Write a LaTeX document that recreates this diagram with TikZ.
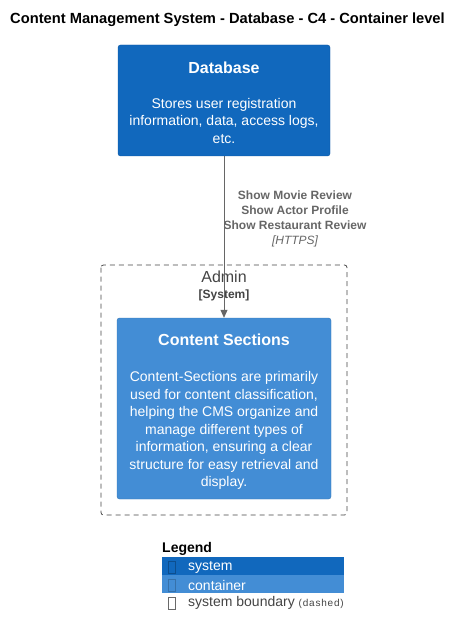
\documentclass[tikz,border=0pt]{standalone}
\usepackage{fontspec}
\setmainfont{Liberation Sans}
\usetikzlibrary{arrows.meta,positioning}

\definecolor{sysblue}{HTML}{1168BD}
\definecolor{contblue}{HTML}{438DD5}
\definecolor{bndgray}{HTML}{444444}
\definecolor{relgray}{HTML}{666666}

\tikzset{
    sysbox/.style={fill=sysblue,draw=sysblue!85!black,rounded corners=2.5pt,minimum width=212pt,minimum height=111pt,text=white,align=center,font=\fontsize{14}{17.5}\selectfont},
    contbox/.style={sysbox,fill=contblue,draw=contblue!85!black,minimum width=214pt,minimum height=181pt},
    bndline/.style={draw=bndgray,dash pattern=on 5pt off 4pt,rounded corners=2.5pt,line width=0.8pt},
    rel/.style={draw=relgray,line width=0.8pt,-{Triangle[length=8pt,width=7pt]}},
    rellabel/.style={text=relgray,align=center,font=\fontsize{12}{15}\selectfont\bfseries},
    legrow/.style={minimum width=182pt,minimum height=17.5pt,inner sep=0pt},
    legtext/.style={anchor=west,inner sep=0pt,font=\fontsize{14}{16}\selectfont},
    tofu/.style={draw,line width=0.4pt,minimum width=7pt,minimum height=12pt,inner sep=0pt}
}

\begin{document}
\begin{tikzpicture}[x=1pt,y=-1pt]
\useasboundingbox (0,0) rectangle (462,636);

% title
\node[font=\fontsize{14.7}{17}\selectfont\bfseries] (title) at (227.5,20) {Content Management System - Database - C4 - Container level};

% database
\node[sysbox] (db) at (224,100.5) {};
\node[text=white,align=center,font=\fontsize{14}{17.5}\selectfont] (dbtext) at ([yshift=-2pt]db.center) {{\fontsize{16}{17.5}\selectfont\bfseries Database}\\[17.5pt]
    Stores user registration\\information, data, access logs,\\etc.};

% admin boundary
\draw[bndline] (101,265) rectangle (347,515);
\node[text=bndgray,font=\fontsize{16}{18}\selectfont] (admin) at (224,277) {Admin};
\node[text=bndgray,font=\fontsize{12}{14}\selectfont\bfseries] (admintype) at (224,295) {[System]};

% content sections
\node[contbox] (cs) at (224,408.5) {};
\node[text=white,align=center,font=\fontsize{14}{17.5}\selectfont] (cstext) at ([yshift=-3pt]cs.center) {{\fontsize{16}{17.5}\selectfont\bfseries Content Sections}\\[19pt]
    Content-Sections are primarily\\used for content classification,\\helping the CMS organize and\\manage different types of\\information, ensuring a clear\\structure for easy retrieval and\\display.};

% relation
\draw[rel] (db.south) -- (cs.north);
\node[rellabel] (rel1) at (295,218.5) {Show Movie Review\\Show Actor Profile\\Show Restaurant Review\\{\mdseries\itshape [HTTPS]}};

% legend
\node[anchor=west,inner sep=0pt,font=\fontsize{14}{16}\selectfont\bfseries] (legend) at (162,549) {Legend};
\node[legrow,fill=sysblue,anchor=north west] (legsys) at (162,557) {};
\node[legrow,fill=contblue,below=0pt of legsys] (legcont) {};
\node[legrow,below=0pt of legcont] (legbnd) {};
\foreach \row/\col/\txt in {legsys/sysblue!75!black/system,legcont/contblue!80!black/container}
{
    \node[tofu,draw=\col] at ([xshift=10pt,yshift=-1pt]\row.west) {};
    \node[legtext,text=white] at ([xshift=26pt,yshift=-1.5pt]\row.west) {\txt};
}
\node[tofu,draw=bndgray!80] at ([xshift=10pt,yshift=-1pt]legbnd.west) {};
\node[legtext,text=bndgray] (bndtxt) at ([xshift=26pt,yshift=-1.5pt]legbnd.west) {system boundary~{\fontsize{10}{12}\selectfont\addfontfeature{LetterSpace=8}(dashed)}};
\end{tikzpicture}
\end{document}
